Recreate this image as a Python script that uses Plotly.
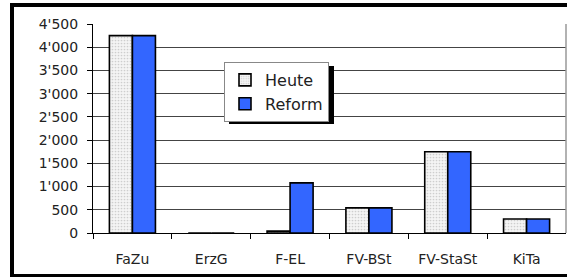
import plotly.graph_objects as go

categories = ["FaZu", "ErzG", "F-EL", "FV-BSt", "FV-StaSt", "KiTa"]
heute = [4250, 0, 40, 540, 1750, 300]
reform = [4250, 0, 1080, 540, 1750, 300]
tick_vals = [0, 500, 1000, 1500, 2000, 2500, 3000, 3500, 4000, 4500]
tick_text = ["0", "500", "1'000", "1'500", "2'000", "2'500", "3'000", "3'500", "4'000", "4'500"]

W, H = 567, 277
def px(x):
    return x / W
def py(y):
    return (H - y) / H

fig = go.Figure()
fig.add_trace(go.Bar(
    x=categories, y=heute, name="Heute",
    marker=dict(color="#f2f2f2", line=dict(color="black", width=1.6),
                pattern=dict(shape=".", fgcolor="#a8a8a8", bgcolor="#f4f4f4", size=3, solidity=0.25)),
))
fig.add_trace(go.Bar(
    x=categories, y=reform, name="Reform",
    marker=dict(color="#3366ff", line=dict(color="black", width=1.6)),
))

font = "DejaVu Sans"
fig.update_layout(
    width=W, height=H,
    margin=dict(l=0, r=0, t=0, b=0, autoexpand=False),
    paper_bgcolor="white", plot_bgcolor="white",
    barmode="group", bargap=0.416, bargroupgap=0,
    font=dict(family=font, size=14, color="#222"),
    showlegend=True,
    legend=dict(x=px(224), y=py(62), xanchor="left", yanchor="top",
                bgcolor="white", bordercolor="#888", borderwidth=1,
                font=dict(family=font, size=16, color="#222"),
                tracegroupgap=0),
    xaxis=dict(domain=[px(93), px(566)], showline=True, linecolor="black", linewidth=1,
               ticks="outside", ticklen=5, tickcolor="black", tickson="boundaries",
               showgrid=False, ticklabelstandoff=13, tickfont=dict(size=14), automargin=False),
    yaxis=dict(domain=[py(233), py(24)], range=[0, 4500], showline=True, linecolor="black",
               linewidth=1, ticks="outside", ticklen=5, tickcolor="black",
               tickvals=tick_vals, ticktext=tick_text, showgrid=True, gridcolor="#444",
               gridwidth=1, zeroline=False, ticklabelstandoff=6, tickfont=dict(size=14),
               automargin=False),
)

# right edge of plot area
fig.add_shape(type="line", xref="x domain", yref="y domain", x0=1, x1=1, y0=0, y1=1,
              line=dict(color="#999", width=1.5))
# legend shadow
fig.add_shape(type="rect", xref="paper", yref="paper", x0=px(229), x1=px(334), y0=py(124), y1=py(66),
              fillcolor="black", line=dict(width=0), layer="above")
# outer frame
fig.add_shape(type="rect", xref="paper", yref="paper", x0=px(12), x1=px(600), y0=py(276), y1=py(5),
              line=dict(color="black", width=4), fillcolor="rgba(0,0,0,0)")

fig.write_html("out.html", config={"displayModeBar": False},
               post_script="document.body.style.margin='0';document.body.style.overflow='hidden';")
